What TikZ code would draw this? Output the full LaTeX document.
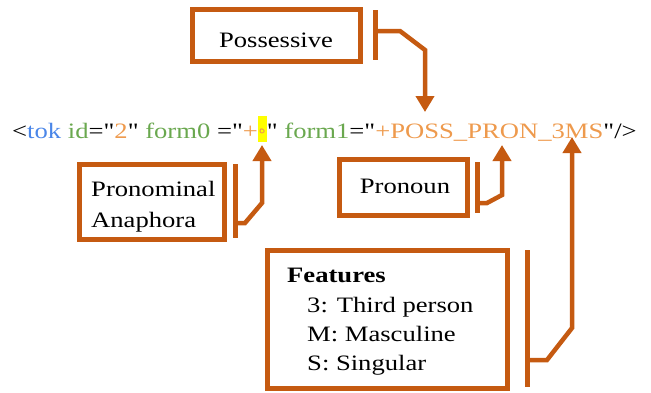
\documentclass[tikz,border=0pt]{standalone}
\usepackage{fontspec}
\setmainfont{Liberation Serif}[FakeStretch=1.21,Ligatures=TeXOff]
\newfontfamily\arabicfont[Script=Arabic]{DejaVu Sans}
\TeXXeTstate=1
\usetikzlibrary{arrows.meta}
\definecolor{boxor}{HTML}{C55A11}
\definecolor{tblue}{HTML}{4A86E8}
\definecolor{tgreen}{HTML}{6AA84F}
\definecolor{torange}{HTML}{EE9A4D}
\definecolor{hlyellow}{HTML}{FFFF00}
\newcommand\hlheh{{\setlength{\fboxsep}{0pt}\colorbox{hlyellow}{\rule[-4pt]{0pt}{26pt}\makebox[9pt]{\raisebox{5pt}{\arabicfont\fontsize{13}{13}\selectfont\textcolor{torange}{\beginR ه\endR}}}}}}
\begin{document}
\begin{tikzpicture}[x=1pt,y=-1pt,
  box/.style={draw=boxor,line width=5pt,inner sep=0pt},
  bar/.style={draw=boxor,line width=5pt},
  link/.style={draw=boxor,line width=4.5pt,-{Triangle[width=18pt,length=16pt]}},
  lbl/.style={font=\fontsize{22}{29}\selectfont,inner sep=0pt}]
\useasboundingbox (0,0) rectangle (651,392);

% code line
\node[lbl,anchor=base west] (code) at (12,138) {<\textcolor{tblue}{tok} \textcolor{tgreen}{id}="\textcolor{torange}{2}" \textcolor{tgreen}{form0} ="\textcolor{torange}{+}\hlheh" \textcolor{tgreen}{form1}="\textcolor{torange}{+POSS\_PRON\_3MS}"/>};

% Possessive
\node[box,minimum width=168pt,minimum height=52pt] (possbox) at (276,35) {};
\node[lbl,anchor=base] (posstxt) at (276,47) {Possessive};
\coordinate (possbarT) at (375,10);
\coordinate (possbarB) at (375,60);
\draw[bar] (possbarT) -- (possbarB);
\coordinate (possA) at (375,31);
\coordinate (possB) at (400,31);
\coordinate (possC) at (425,50);
\coordinate (possTip) at (425,112);
\draw[link] (possA) -- (possB) -- (possC) -- (possTip);

% Pronominal Anaphora
\node[box,minimum width=145pt,minimum height=75pt] (anabox) at (151.5,201.5) {};
\node[lbl,anchor=base west] (anatxt1) at (91,196) {Pronominal};
\node[lbl,anchor=base west] (anatxt2) at (91,227) {Anaphora};
\coordinate (anabarT) at (235,164);
\coordinate (anabarB) at (235,238);
\draw[bar] (anabarT) -- (anabarB);
\coordinate (anaA) at (235,223);
\coordinate (anaB) at (245,223);
\coordinate (anaC) at (262,203);
\coordinate (anaTip) at (262,145);
\draw[link] (anaA) -- (anaB) -- (anaC) -- (anaTip);

% Pronoun
\node[box,minimum width=128pt,minimum height=56pt] (pronbox) at (403,187) {};
\node[lbl,anchor=base] (prontxt) at (405,193) {Pronoun};
\coordinate (pronbarT) at (477,162);
\coordinate (pronbarB) at (477,213);
\draw[bar] (pronbarT) -- (pronbarB);
\coordinate (pronA) at (477,203);
\coordinate (pronB) at (487,203);
\coordinate (pronC) at (502,195);
\coordinate (pronTip) at (502,145);
\draw[link] (pronA) -- (pronB) -- (pronC) -- (pronTip);

% Features
\node[box,minimum width=240pt,minimum height=138pt] (featbox) at (387,319) {};
\node[lbl,anchor=base west] (feattitle) at (287,282) {\bfseries Features};
\node[lbl,anchor=base west] (feat1) at (307,312) {3: Third person};
\node[lbl,anchor=base west] (feat2) at (307,341) {M: Masculine};
\node[lbl,anchor=base west] (feat3) at (307,370) {S: Singular};
\coordinate (featbarT) at (527,250);
\coordinate (featbarB) at (527,387);
\draw[bar] (featbarT) -- (featbarB);
\coordinate (featA) at (527,360);
\coordinate (featB) at (547,360);
\coordinate (featC) at (572,328);
\coordinate (featTip) at (572,137);
\draw[link] (featA) -- (featB) -- (featC) -- (featTip);
\end{tikzpicture}
\end{document}
